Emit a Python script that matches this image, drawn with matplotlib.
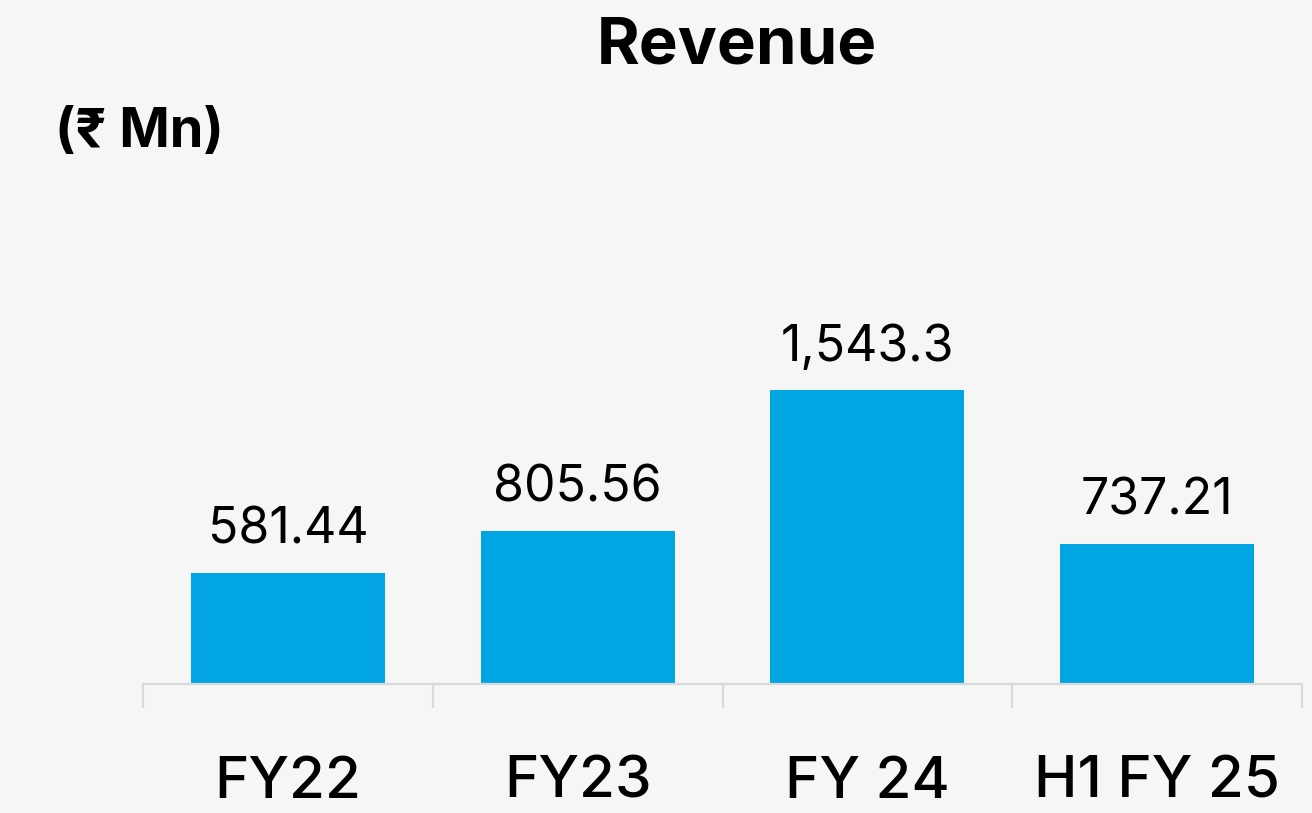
import matplotlib.pyplot as plt

plt.rcParams['font.family'] = ['Inter', 'DejaVu Sans']

categories = ['FY22', 'FY23', 'FY 24', 'H1 FY 25']
revenue = [581.44, 805.56, 1543.3, 737.21]
value_labels = ['581.44', '805.56', '1,543.3', '737.21']

bg = '#f6f6f6'
bar_color = '#00a5e2'
txt = '#000000'

fig = plt.figure(figsize=(13.12, 8.13), dpi=100, facecolor=bg)
W, H = 1312, 813
# axes: x from 143 to 1302 px, baseline at 683.5 px, top at 100 px
px_per_unit = 293 / 1543.3
ymax = (683.5 - 100) / px_per_unit
ax = fig.add_axes([143 / W, (H - 683.5) / H, (1302 - 143) / W, (683.5 - 100) / H])
ax.set_facecolor(bg)

x = list(range(len(categories)))
bars = ax.bar(x, revenue, width=0.67, color=bar_color)
ax.set_xlim(-0.5, len(categories) - 0.5)
ax.set_ylim(0, ymax)

for rect, lab in zip(bars, value_labels):
    ax.annotate(lab, (rect.get_x() + rect.get_width() / 2, rect.get_height()),
                xytext=(0, 14), textcoords='offset points',
                ha='center', va='bottom', fontsize=36, color=txt)

for s in ['top', 'right', 'left']:
    ax.spines[s].set_visible(False)
ax.spines['bottom'].set_color('#d9d9d9')
ax.spines['bottom'].set_linewidth(1.6)
ax.set_yticks([])

# boundary ticks
ax.set_xticks([i - 0.5 for i in range(len(categories) + 1)])
ax.set_xticklabels([])
ax.tick_params(axis='x', which='major', length=17, width=1.6, color='#d9d9d9')
# category labels
ax.set_xticks(x, minor=True)
ax.set_xticklabels(categories, minor=True, fontsize=42, color=txt, fontweight=500)
ax.tick_params(axis='x', which='minor', length=0, pad=52)

fig.text(737 / W, 1 - 46 / H, 'Revenue', ha='center', va='center',
         fontsize=47, fontweight='bold', color=txt)
fig.text(55 / W, 1 - 133 / H, '(₹ Mn)', ha='left', va='center',
         fontsize=39, fontweight='bold', color=txt)

plt.savefig('out.png', dpi=100, facecolor=bg)
